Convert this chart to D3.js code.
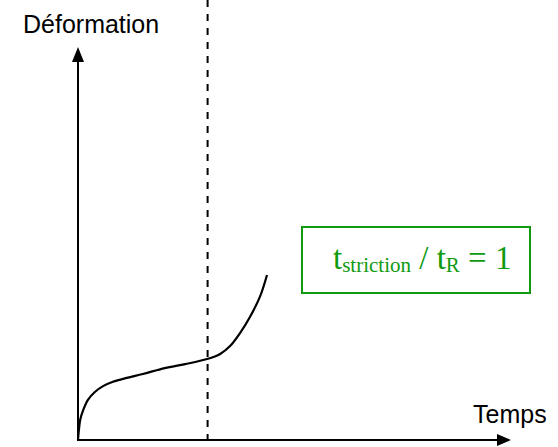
<!DOCTYPE html>
<html>
<head>
<meta charset="utf-8">
<script src="https://cdn.jsdelivr.net/npm/d3@7"></script>
<style>
  html, body { margin: 0; padding: 0; background: #fff; }
  svg { display: block; }
</style>
</head>
<body>
<script>
// Creep curve: time (arbitrary units) vs deformation (arbitrary units)
const timeValues = [0, 0.2, 0.5, 1.2, 2.3, 3.9, 5.8, 8.1, 11.3, 15.0, 20.1, 24.8, 29.9, 32.9, 35.2, 37.5, 39.8, 42.1, 43.75];
const strainValues = [0, 2.5, 5.1, 7.6, 10.2, 12.2, 13.7, 14.8, 15.8, 16.8, 18.3, 19.3, 20.6, 21.9, 23.9, 27.2, 31.3, 36.4, 42.0];
// Time at which necking starts
const strictionTime = [30];
const axisLabels = ["Temps", "Déformation"];
const ratioLabel = ["t", "striction", " / t", "R", " = 1"];

const W = 558, H = 447;
const green = "#109a10";

const svg = d3.select("body").append("svg")
  .attr("width", W).attr("height", H);

const x = d3.scaleLinear().domain([0, 100]).range([78, 510]);
const y = d3.scaleLinear().domain([0, 100]).range([440, 47]);

// Axes with arrowheads
svg.append("line")
  .attr("x1", x(0)).attr("y1", y(0))
  .attr("x2", x(0)).attr("y2", y(100) + 10)
  .attr("stroke", "#000").attr("stroke-width", 2);
svg.append("line")
  .attr("x1", x(0) - 1).attr("y1", y(0))
  .attr("x2", x(100) - 8).attr("y2", y(0))
  .attr("stroke", "#000").attr("stroke-width", 2);

svg.append("path")
  .attr("d", `M${x(0)},${y(100)} L${x(0) - 6},${y(100) + 15} L${x(0) + 6},${y(100) + 15} Z`)
  .attr("fill", "#000");
svg.append("path")
  .attr("d", `M${x(100) + 1},${y(0)} L${x(100) - 13},${y(0) - 6} L${x(100) - 13},${y(0) + 6} Z`)
  .attr("fill", "#000");

// Necking time marker
svg.selectAll("line.striction")
  .data(strictionTime)
  .join("line")
  .attr("class", "striction")
  .attr("x1", d => x(d)).attr("x2", d => x(d))
  .attr("y1", 0).attr("y2", y(0))
  .attr("stroke", "#000").attr("stroke-width", 2)
  .attr("stroke-dasharray", "7,7");

// Creep curve
const pts = timeValues.map((t, i) => [t, strainValues[i]]);
const line = d3.line()
  .x(d => x(d[0])).y(d => y(d[1]))
  .curve(d3.curveCatmullRom.alpha(0.5));
svg.append("path")
  .datum(pts)
  .attr("d", line)
  .attr("fill", "none")
  .attr("stroke", "#000")
  .attr("stroke-width", 2.2);

// Axis titles
svg.append("text")
  .attr("x", 23).attr("y", 33)
  .attr("font-family", "Liberation Sans, Arial, sans-serif")
  .attr("font-size", 25)
  .attr("fill", "#000")
  .text(axisLabels[1]);
svg.append("text")
  .attr("x", 473).attr("y", 423)
  .attr("font-family", "Liberation Sans, Arial, sans-serif")
  .attr("font-size", 25)
  .attr("fill", "#000")
  .text(axisLabels[0]);

// Ratio box
svg.append("rect")
  .attr("x", 302).attr("y", 227)
  .attr("width", 228).attr("height", 66)
  .attr("fill", "#fff")
  .attr("stroke", green).attr("stroke-width", 2);

const txt = svg.append("text")
  .attr("x", 333).attr("y", 269)
  .attr("font-family", "Liberation Serif, Times New Roman, serif")
  .attr("font-size", 33)
  .attr("fill", green)
  .attr("xml:space", "preserve")
  .style("white-space", "pre");
txt.append("tspan").text(ratioLabel[0]);
txt.append("tspan").attr("font-size", 21).attr("dy", 3).text(ratioLabel[1]);
txt.append("tspan").attr("dy", -3).text(ratioLabel[2]);
txt.append("tspan").attr("font-size", 21).attr("dy", 3).text(ratioLabel[3]);
txt.append("tspan").attr("dy", -3).text(ratioLabel[4]);
</script>
</body>
</html>
